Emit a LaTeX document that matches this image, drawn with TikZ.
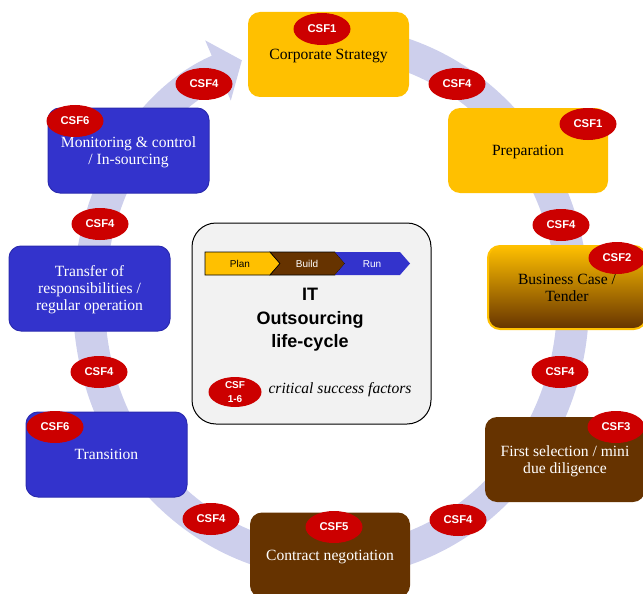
\documentclass[tikz,border=0pt]{standalone}
\usepackage{fontspec}
\setmainfont{Liberation Serif}
\setsansfont{Liberation Sans}
\usetikzlibrary{arrows.meta,shapes.geometric,calc}
\definecolor{cYel}{HTML}{FFC000}
\definecolor{cBrn}{HTML}{663300}
\definecolor{cBlu}{HTML}{3333CC}
\definecolor{cBluD}{HTML}{2B2BB0}
\definecolor{cRed}{HTML}{CC0000}
\definecolor{cBand}{RGB}{205,207,236}
\definecolor{cPanel}{HTML}{F2F2F2}
\begin{document}
\begin{tikzpicture}[x=1pt,y=-1pt,
  phase/.style={rounded corners=12pt, minimum width=161pt, minimum height=85pt,
    inner sep=2pt, align=center, text depth=0pt, font=\fontsize{15.6}{17}\selectfont},
  yelbox/.style={phase, fill=cYel, text=black},
  brnbox/.style={phase, fill=cBrn, text=white},
  blubox/.style={phase, fill=cBlu, draw=cBluD, line width=1pt, text=white},
  csf/.style={ellipse, fill=cRed, minimum width=57pt, minimum height=32pt, inner sep=0pt,
    text=white, font=\sffamily\bfseries\fontsize{11.3}{13}\selectfont},
  chev/.style={font=\sffamily\fontsize{10}{12}\selectfont, inner sep=0pt}
]
\useasboundingbox (0,0) rectangle (643,594);

% ring arrow
\coordinate (c) at (331,302);
\draw[line width=32pt, cBand, -{Triangle[width=64pt,length=26pt]}]
  ($(c)+({242*cos(-100)},{260*sin(-100)})$)
  arc[start angle=-100, end angle=248.4, x radius=242, y radius=260];

% phase boxes
\node[yelbox] (corp) at (328.5,54.5) {Corporate Strategy};
\node[yelbox, minimum width=160pt] (prep) at (528,150.5) {Preparation};
\node[phase, minimum width=158pt, minimum height=83pt, draw=cYel, line width=2pt,
  top color=cYel, middle color=cYel, bottom color=cBrn] (bc) at (567,287.5) {Business Case /\\Tender};
\node[brnbox, minimum width=160pt] (fsel) at (565,459.5) {First selection / mini\\due diligence};
\node[brnbox, minimum width=160pt] (contract) at (330,555) {Contract negotiation};
\node[blubox] (trans) at (106.5,454.5) {Transition};
\node[blubox] (transfer) at (89.5,288.5) {Transfer of\\responsibilities /\\regular operation};
\node[blubox] (monit) at (128.5,150.5) {Monitoring \& control\\/ In-sourcing};

% CSF ellipses on boxes
\node[csf] (k1) at (322,29) {CSF1};
\node[csf] (k2) at (588,124) {CSF1};
\node[csf] (k3) at (617,258) {CSF2};
\node[csf] (k4) at (616,427) {CSF3};
\node[csf] (k5) at (334,527) {CSF5};
\node[csf] (k6) at (55,427) {CSF6};
\node[csf] (k7) at (75,121) {CSF6};

% CSF4 ellipses on the ring
\node[csf] (r1) at (204,84) {CSF4};
\node[csf] (r2) at (457,84) {CSF4};
\node[csf] (r3) at (561,225) {CSF4};
\node[csf] (r4) at (560,372) {CSF4};
\node[csf] (r5) at (458,520) {CSF4};
\node[csf] (r6) at (211,519) {CSF4};
\node[csf] (r7) at (99,372) {CSF4};
\node[csf] (r8) at (100,224) {CSF4};

% centre panel
\node[draw=black, line width=1pt, fill=cPanel, rounded corners=24pt,
  minimum width=239pt, minimum height=201pt] (panel) at (311.5,323.5) {};
\draw[fill=cYel, draw=black, line width=0.6pt]
  (205,252) -- (270,252) -- (280,263.5) -- (270,275) -- (205,275) -- cycle;
\draw[fill=cBrn, draw=black, line width=0.6pt]
  (270,252) -- (335,252) -- (345,263.5) -- (335,275) -- (270,275) -- (280,263.5) -- cycle;
\draw[fill=cBlu, draw=none]
  (335,252) -- (400,252) -- (410,263.5) -- (400,275) -- (335,275) -- (345,263.5) -- cycle;
\node[chev, text=black] (plan) at (240,264) {Plan};
\node[chev, text=white] (build) at (307,264) {Build};
\node[chev, text=white] (run) at (372,264) {Run};
\node[align=center, font=\sffamily\bfseries\fontsize{18}{23.5}\selectfont] (title) at (310,320)
  {IT\\Outsourcing\\life-cycle};
\node[csf, minimum width=53pt, minimum height=30pt, font=\sffamily\bfseries\fontsize{10}{14}\selectfont,
  align=center] (leg) at (235,392) {CSF\\1-6};
\node[font=\itshape\fontsize{15.6}{17}\selectfont, inner sep=0pt] (legtxt) at (340,390) {critical success factors};
\end{tikzpicture}
\end{document}
